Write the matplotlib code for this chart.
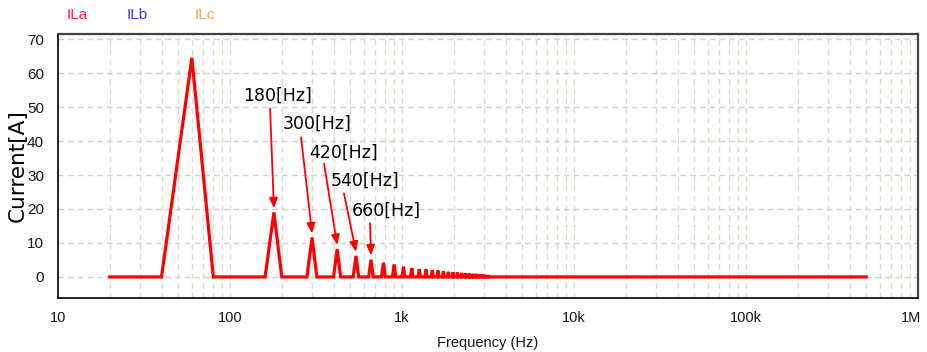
"""
Harmonic spectrum of line current ILa (FFT, 20 Hz bins), log frequency axis.

Output: out.png (928x352)
"""
import matplotlib
matplotlib.use("Agg")
import matplotlib.pyplot as plt
import matplotlib.ticker as mtick
import matplotlib.transforms as mtrans
import numpy as np

# FFT bin spacing and plotted range
BIN_HZ = 20
F_START = 20
F_STOP = 500_000

# odd harmonics of 60 Hz
HARMONIC_HZ = [60, 180, 300, 420, 540, 660, 780, 900, 1020, 1140, 1260, 1380,
               1500, 1620, 1740, 1860, 1980, 2100, 2220, 2340, 2460, 2580,
               2700, 2820, 2940, 3060, 3180]
HARMONIC_A = [64.5, 19.0, 11.6, 8.2, 6.2, 5.1, 4.2, 3.7, 3.0, 2.6, 2.3, 2.2,
              2.0, 1.9, 1.6, 1.5, 1.4, 1.3, 1.2, 1.1, 1.0, 0.9, 0.9, 0.8,
              0.7, 0.6, 0.5]

ANNOT_HZ = [180, 300, 420, 540, 660]
ANNOT_LABELS = ["180[Hz]", "300[Hz]", "420[Hz]", "540[Hz]", "660[Hz]"]

LEGEND_NAMES = ["ILa", "ILb", "ILc"]
LEGEND_COLORS = ["#ff1a40", "#3a3aff", "#ffa04a"]

X_TICKS = [10, 100, 1_000, 10_000, 100_000, 1_000_000]
X_TICK_LABELS = ["10", "100", "1k", "10k", "100k", "1M"]
Y_TICKS = [0, 10, 20, 30, 40, 50, 60, 70]

# text / arrow tail positions (data coords) for the annotations
TEXT_POS = [(190, 53.4), (320, 45.2), (460, 36.7), (610, 28.2), (807, 19.4)]
TAIL_POS = [(171, 49.6), (259, 41.1), (352, 33.4), (460, 24.6), (652, 15.8)]

SANS = ["Liberation Sans", "DejaVu Sans"]
TICK_COLOR = "#141428"

# build spectrum on the FFT grid
freq = np.arange(F_START, F_STOP + BIN_HZ, BIN_HZ)
current = np.zeros_like(freq, dtype=float)
for f, a in zip(HARMONIC_HZ, HARMONIC_A):
    current[(f - F_START) // BIN_HZ] = a

fig = plt.figure(figsize=(9.28, 3.52), dpi=100)
ax = fig.add_axes([0.0625, 0.1534, 0.9267, 0.75])

ax.plot(freq, current, color="#ff0000", linewidth=2.3, solid_joinstyle="miter",
        zorder=3)

ax.set_xscale("log")
ax.set_xlim(10, 1_000_000)
ax.set_ylim(-6.2, 71.5)

ax.set_xticks(X_TICKS)
ax.set_xticklabels(X_TICK_LABELS, family=SANS, fontsize=10.5, color=TICK_COLOR)
ax.xaxis.set_minor_locator(mtick.LogLocator(base=10, subs=np.arange(2, 10)))
ax.xaxis.set_minor_formatter(mtick.NullFormatter())
ax.set_yticks(Y_TICKS)
ax.set_yticklabels([str(v) for v in Y_TICKS], family=SANS,
                   fontsize=11, color=TICK_COLOR)
ax.tick_params(axis="both", which="both", length=0)
ax.tick_params(axis="y", pad=10)
ax.tick_params(axis="x", pad=9)

# "1M" sits a bit inside the right edge in the original
last = ax.get_xticklabels()[-1]
last.set_transform(last.get_transform() +
                   mtrans.ScaledTranslation(-7 / 100, 0, fig.dpi_scale_trans))

ax.grid(True, which="major", axis="y", color="#cfcfcf", linestyle=(0, (4, 3)),
        linewidth=1.0)
ax.grid(True, which="both", axis="x", color="#d6dec8", linestyle=(0, (4, 3)),
        linewidth=1.0)
ax.set_axisbelow(True)

for side in ["left", "bottom"]:
    ax.spines[side].set_color("#000000")
    ax.spines[side].set_linewidth(1.2)
for side in ["top", "right"]:
    ax.spines[side].set_color("#404040")
    ax.spines[side].set_linewidth(1.6)

ax.set_xlabel("Frequency (Hz)", family=SANS, fontsize=10.5, labelpad=8,
              color=TICK_COLOR)
ax.set_ylabel("Current[A]", fontsize=15.5)
ax.yaxis.set_label_coords(-0.035, 0.5)

# harmonic annotations
amp = dict(zip(HARMONIC_HZ, HARMONIC_A))
for f, lab, tpos, tail in zip(ANNOT_HZ, ANNOT_LABELS, TEXT_POS, TAIL_POS):
    ax.text(tpos[0], tpos[1], lab, ha="center", va="center", fontsize=12.5,
            color="black", zorder=5)
    ax.annotate("", xy=(f, amp[f] + 1.2), xytext=tail,
                arrowprops=dict(arrowstyle="-|>,head_length=0.6,head_width=0.25",
                                color="#ff0000", lw=1.3, shrinkA=0, shrinkB=0),
                zorder=4)

# trace names above the plot
for x_px, name, col in zip([77, 137, 205], LEGEND_NAMES, LEGEND_COLORS):
    fig.text(x_px / 928, 1 - 15 / 352, name, color=col, ha="center",
             va="center", fontsize=11, family=SANS)

fig.savefig("out.png", dpi=100)
